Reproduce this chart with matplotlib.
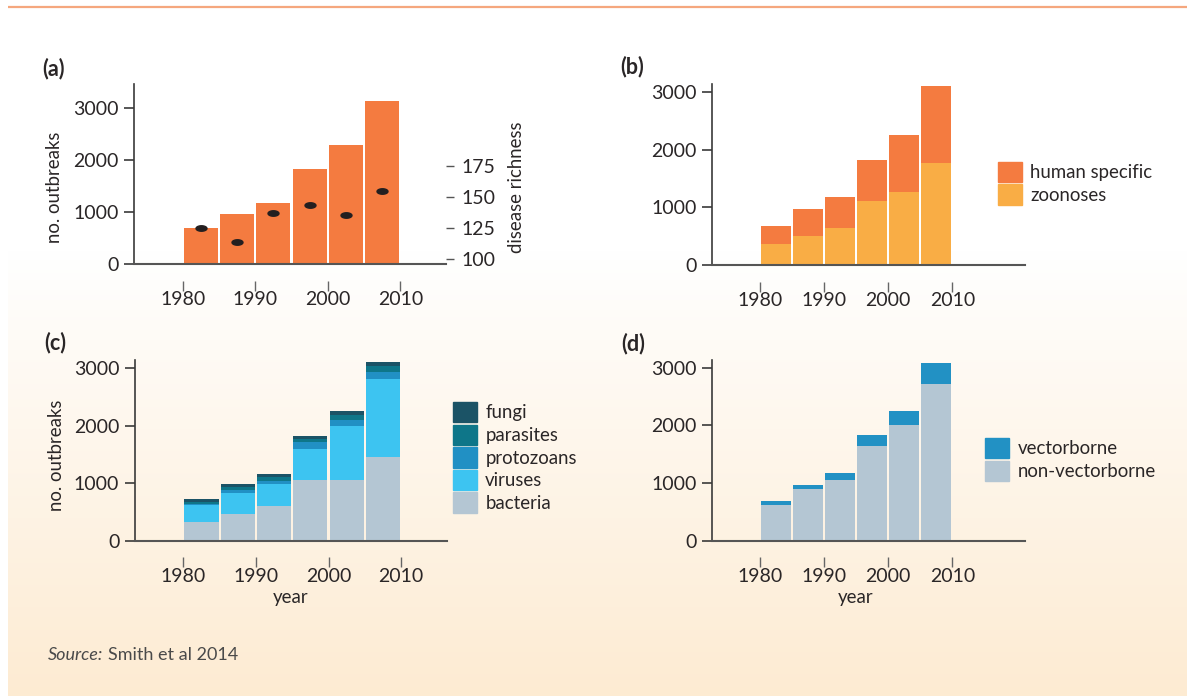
import numpy as np
import matplotlib
matplotlib.use('Agg')
import matplotlib.pyplot as plt
from matplotlib.path import Path
from matplotlib.patches import Patch

plt.rcParams['font.family'] = ['Lato', 'DejaVu Sans']

# data (one bar per 5-year block)
years = [1982.5, 1987.5, 1992.5, 1997.5, 2002.5, 2007.5]
outbreaks = [690, 970, 1180, 1830, 2290, 3140]
disease_richness = [125, 114, 137, 144, 136, 155]

human_specific = [312, 463, 538, 712, 990, 1343]
zoonoses = [371, 510, 643, 1112, 1268, 1772]

bacteria = [325, 470, 609, 1056, 1056, 1456]
viruses = [296, 360, 378, 540, 940, 1358]
protozoans = [15, 52, 52, 127, 104, 122]
parasites = [40, 52, 64, 47, 87, 104]
fungi = [50, 53, 58, 52, 75, 70]

non_vectorborne = [618, 896, 1052, 1642, 2006, 2717]
vectorborne = [70, 69, 121, 190, 243, 364]

year_ticks = [1980, 1990, 2000, 2010]
count_ticks = [0, 1000, 2000, 3000]
richness_ticks = [100, 125, 150, 175]

ORANGE = '#F47B40'
ZOO = '#F9AD45'
BACT = '#B4C6D3'
VIR = '#3DC4F1'
PROTO = '#2190C4'
PARA = '#0E7689'
FUNGI = '#1B5366'
VECT = '#2291C4'
TXT = '#2a2627'

W, H = 1187, 696
fig = plt.figure(figsize=(W / 100, H / 100), dpi=100)


def rect(l, t, r, b):
    return [l / W, 1 - b / H, (r - l) / W, (b - t) / H]


def fx(x):
    return x / W


def fy(y):
    return 1 - y / H


# background: white fading to peach, orange rule at top
bg = fig.add_axes([0, 0, 1, 1], zorder=-10)
bg.set_xlim(0, W)
bg.set_ylim(H, 0)
bg.axis('off')
rows = np.arange(H)
f = np.clip((rows - 250) / (H - 250), 0, 1)
top_c = np.array([1.0, 1.0, 1.0])
bot_c = np.array([253, 235, 210]) / 255
grad = top_c[None, :] * (1 - f[:, None]) + bot_c[None, :] * f[:, None]
bg.imshow(grad[:, None, :], extent=[7.5, W, H, 0], aspect='auto')
bg.plot([8, W], [6.7, 6.7], color='#F5A77E', lw=1.6, solid_capstyle='butt')

BW = 4.7


def style(ax, xlim, ytop):
    ax.set_xlim(*xlim)
    ax.set_ylim(0, ytop)
    ax.set_facecolor('none')
    ax.spines['top'].set_visible(False)
    ax.spines['right'].set_visible(False)
    ax.spines['left'].set_color('#3a3a3a')
    ax.spines['left'].set_linewidth(1.2)
    ax.spines['bottom'].set_position(('outward', 12))
    ax.spines['bottom'].set_visible(False)
    ax.axhline(0, color='#555555', lw=1.5, zorder=3, clip_on=False)
    ax.set_xticks(year_ticks)
    ax.set_yticks(count_ticks)
    ax.tick_params(axis='x', length=7, width=1, color='#666666', pad=0.3,
                   labelsize=14, labelcolor=TXT)
    ax.tick_params(axis='y', length=7, width=1.2, color='#3a3a3a', pad=4,
                   labelsize=14, labelcolor=TXT)


def legend(ax, handles, labels, x, y):
    ax.legend(handles, labels, loc='upper left', bbox_to_anchor=(fx(x), fy(y)),
              bbox_transform=fig.transFigure, frameon=False, borderpad=0,
              borderaxespad=0, handlelength=1.31, handleheight=1.30,
              labelspacing=0.125, handletextpad=0.45, fontsize=13.4,
              labelcolor=TXT)


# (a)
ax_a = fig.add_axes(rect(134, 84, 446, 264))
style(ax_a, (1973.3, 2016.3), 3460)
ax_a.bar(years, outbreaks, width=BW, color=ORANGE, zorder=2)
ax_r = ax_a.twinx()
ax_r.set_ylim(96.2, 241)
ax_r.set_facecolor('none')
for s in ax_r.spines.values():
    s.set_visible(False)
ax_r.set_yticks(richness_ticks)
ax_r.tick_params(axis='y', length=6, width=1, color='#555555', pad=5,
                 labelsize=14, labelcolor=TXT)
t = np.linspace(0, 2 * np.pi, 60)
ellipse = Path(np.column_stack([np.cos(t), 0.5 * np.sin(t)]), closed=True)
ax_r.scatter(years, disease_richness, marker=ellipse, s=62, color='#231F20',
             zorder=4)

# (b)
ax_b = fig.add_axes(rect(712, 84.3, 1025.5, 265))
style(ax_b, (1972.5, 2021.4), 3139)
ax_b.bar(years, zoonoses, width=BW, color=ZOO, zorder=2)
ax_b.bar(years, human_specific, bottom=zoonoses, width=BW, color=ORANGE, zorder=2)
legend(ax_b, [Patch(color=ORANGE), Patch(color=ZOO)],
       ['human specific', 'zoonoses'], 997.7, 161.7)

# (c)
ax_c = fig.add_axes(rect(134.6, 360, 447, 540.7))
style(ax_c, (1973.3, 2016.3), 3144)
groups = [('bacteria', bacteria, BACT), ('viruses', viruses, VIR),
          ('protozoans', protozoans, PROTO), ('parasites', parasites, PARA),
          ('fungi', fungi, FUNGI)]
base = np.zeros(len(years))
for name, vals, col in groups:
    ax_c.bar(years, vals, bottom=base, width=BW, color=col, zorder=2)
    base = base + np.array(vals)
legend(ax_c, [Patch(color=g[2]) for g in groups[::-1]],
       [g[0] for g in groups[::-1]], 452.5, 402)

# (d)
ax_d = fig.add_axes(rect(712, 360, 1025.5, 540.7))
style(ax_d, (1972.5, 2021.4), 3133)
ax_d.bar(years, non_vectorborne, width=BW, color=BACT, zorder=2)
ax_d.bar(years, vectorborne, bottom=non_vectorborne, width=BW, color=VECT, zorder=2)
legend(ax_d, [Patch(color=VECT), Patch(color=BACT)],
       ['vectorborne', 'non-vectorborne'], 984.8, 438)

# panel letters and axis titles
for lab, x, y in [('(a)', 42, 69), ('(b)', 620, 67), ('(c)', 44, 343), ('(d)', 621, 344)]:
    fig.text(fx(x), fy(y), lab, fontsize=15.5, fontweight='bold', color=TXT,
             ha='left', va='center')
fig.text(fx(55), fy(187), 'no. outbreaks', rotation=90, fontsize=13.4, color=TXT,
         ha='center', va='center')
fig.text(fx(56), fy(455), 'no. outbreaks', rotation=90, fontsize=13.4, color=TXT,
         ha='center', va='center')
fig.text(fx(517), fy(187), 'disease richness', rotation=90, fontsize=13.4, color=TXT,
         ha='center', va='center')
fig.text(fx(291), fy(598), 'year', fontsize=13.4, color=TXT, ha='center', va='center')
fig.text(fx(856), fy(598), 'year', fontsize=13.4, color=TXT, ha='center', va='center')

src = fig.text(fx(48), fy(663), 'Source:', fontsize=13, style='italic',
               color='#4a4a4a', ha='left', va='bottom')
bg.annotate('Smith et al 2014', xy=(1, 0), xycoords=src, xytext=(3, 0),
            textcoords='offset points', fontsize=13, color='#4a4a4a',
            ha='left', va='bottom')

fig.savefig('out.png', dpi=100)
